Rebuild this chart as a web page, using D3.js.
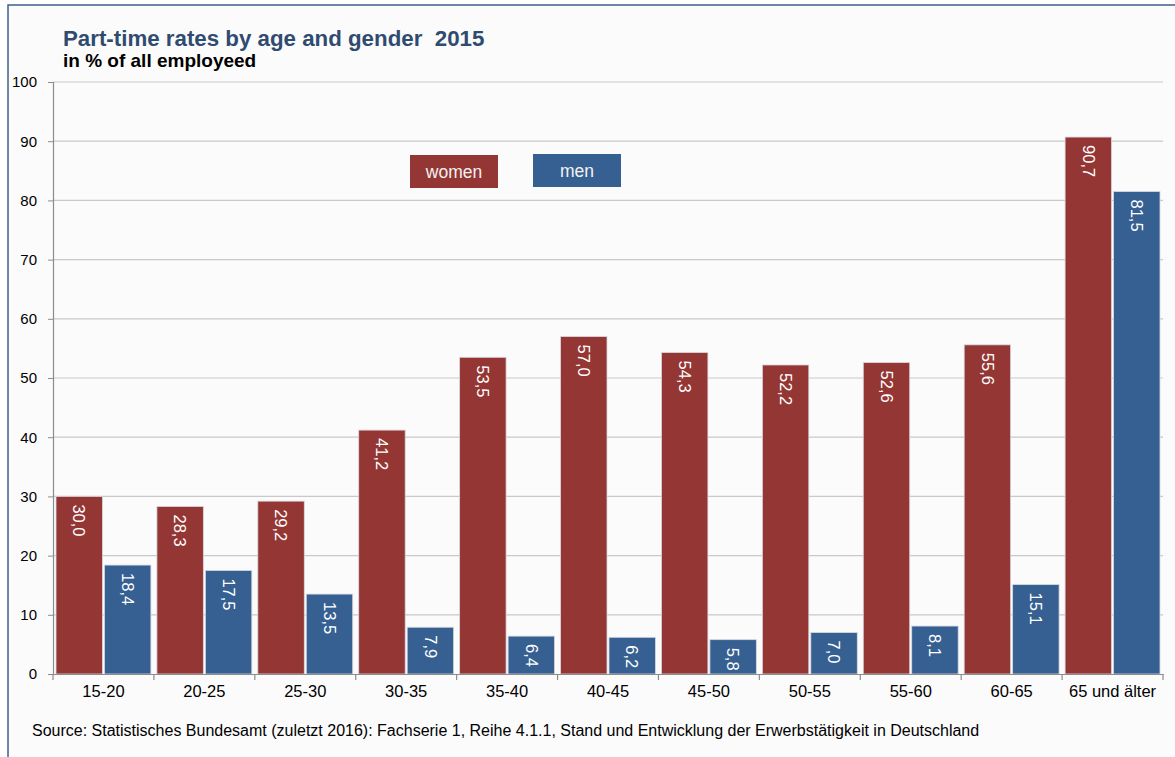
<!DOCTYPE html>
<html>
<head>
<meta charset="utf-8">
<script src="https://cdn.jsdelivr.net/npm/d3@7"></script>
<style>
  body { margin: 0; background: #fff; }
  svg { font-family: Arial, "Liberation Sans", sans-serif; }
</style>
</head>
<body>
<div id="chart"></div>
<script>
// chart data
const ageGroups = ["15-20", "20-25", "25-30", "30-35", "35-40", "40-45", "45-50", "50-55", "55-60", "60-65", "65 und älter"];
const women = [30.0, 28.3, 29.2, 41.2, 53.5, 57.0, 54.3, 52.2, 52.6, 55.6, 90.7];
const men = [18.4, 17.5, 13.5, 7.9, 6.4, 6.2, 5.8, 7.0, 8.1, 15.1, 81.5];
const yTicks = [0, 10, 20, 30, 40, 50, 60, 70, 80, 90, 100];

const width = 1175, height = 757;
const margin = {top: 82, right: 12, bottom: 83, left: 53};
const colWomen = "#943634", colMen = "#366092";

const svg = d3.select("#chart").append("svg")
  .attr("width", width)
  .attr("height", height);

// frame + background
svg.append("rect").attr("x", 0).attr("y", 0).attr("width", width).attr("height", height).attr("fill", "#fff");
svg.append("rect").attr("x", 8).attr("y", 5).attr("width", width).attr("height", height)
  .attr("fill", "#fbfbfb").attr("stroke", "#3f5f8a").attr("stroke-width", 1.5);

const x = d3.scaleBand()
  .domain(ageGroups)
  .range([margin.left, width - margin.right]);

const y = d3.scaleLinear()
  .domain([0, 100])
  .range([height - margin.bottom, margin.top]);

// gridlines
svg.append("g")
  .selectAll("line")
  .data(yTicks.slice(1))
  .enter()
  .append("line")
    .attr("x1", margin.left)
    .attr("x2", width - margin.right)
    .attr("y1", d => y(d))
    .attr("y2", d => y(d))
    .attr("stroke", "#c9c9c9")
    .attr("stroke-width", 1.2);

// bars
const pad = 3, gap = 2;
const barW = (x.bandwidth() - 2 * pad - gap) / 2;

const series = [
  {name: "women", values: women, color: colWomen, off: pad},
  {name: "men", values: men, color: colMen, off: pad + barW + gap}
];

series.forEach(s => {
  svg.append("g")
    .selectAll("rect")
    .data(ageGroups)
    .enter()
    .append("rect")
      .attr("x", d => x(d) + s.off)
      .attr("y", (d, i) => y(s.values[i]))
      .attr("width", barW)
      .attr("height", (d, i) => y(0) - y(s.values[i]))
      .attr("fill", s.color)
      .attr("stroke", "#d9d9e0")
      .attr("stroke-width", 0.8);

  // rotated value labels
  svg.append("g")
    .selectAll("text")
    .data(ageGroups)
    .enter()
    .append("text")
      .attr("transform", (d, i) => `translate(${x(d) + s.off + barW / 2},${y(s.values[i]) + 8}) rotate(90)`)
      .attr("dy", "0.35em")
      .attr("fill", "#fff")
      .attr("font-size", "16.5px")
      .text((d, i) => s.values[i].toFixed(1).replace(".", ","));
});

// y axis
const yAxis = svg.append("g")
  .attr("transform", `translate(${margin.left},0)`)
  .call(d3.axisLeft(y).tickValues(yTicks).tickSize(5).tickPadding(11));
yAxis.select(".domain").attr("stroke", "#8c8c8c").attr("stroke-width", 1.2);
yAxis.selectAll(".tick line").attr("stroke", "#8c8c8c");
yAxis.selectAll(".tick text").attr("font-size", "15px").attr("fill", "#000")
  .attr("font-family", "Arial, 'Liberation Sans', sans-serif");

// x axis
const xAxis = svg.append("g")
  .attr("transform", `translate(0,${y(0)})`)
  .call(d3.axisBottom(x).tickSize(0).tickPadding(11));
xAxis.select(".domain").attr("stroke", "#8c8c8c").attr("stroke-width", 1.2);
xAxis.selectAll(".tick text").attr("font-size", "16.5px").attr("fill", "#000")
  .attr("font-family", "Arial, 'Liberation Sans', sans-serif");

// category separator ticks
svg.append("g")
  .selectAll("line")
  .data(ageGroups.concat(["end"]))
  .enter()
  .append("line")
    .attr("x1", (d, i) => margin.left + i * x.step())
    .attr("x2", (d, i) => margin.left + i * x.step())
    .attr("y1", y(0))
    .attr("y2", y(0) + 6)
    .attr("stroke", "#8c8c8c")
    .attr("stroke-width", 1.2);

// legend
const legend = [
  {label: "women", color: colWomen, x: 410, y: 155},
  {label: "men", color: colMen, x: 533, y: 154}
];
const lg = svg.append("g").selectAll("g")
  .data(legend)
  .enter()
  .append("g")
  .attr("transform", d => `translate(${d.x},${d.y})`);
lg.append("rect").attr("width", 88).attr("height", 33).attr("fill", d => d.color);
lg.append("text")
  .attr("x", 44).attr("y", 17).attr("dy", "0.35em")
  .attr("text-anchor", "middle")
  .attr("fill", "#f2f2f2")
  .attr("font-size", "17.5px")
  .text(d => d.label);

// titles
svg.append("text")
  .attr("x", 63).attr("y", 46)
  .attr("fill", "#2f4b70")
  .attr("font-size", "22.3px")
  .attr("font-weight", "bold")
  .attr("xml:space", "preserve")
  .text("Part-time rates by age and gender  2015");

svg.append("text")
  .attr("x", 63).attr("y", 67)
  .attr("fill", "#000")
  .attr("font-size", "19px")
  .attr("font-weight", "bold")
  .text("in % of all employeed");

// source
svg.append("text")
  .attr("x", 32).attr("y", 736)
  .attr("fill", "#000")
  .attr("font-size", "16px")
  .text("Source: Statistisches Bundesamt (zuletzt 2016): Fachserie 1, Reihe 4.1.1, Stand und Entwicklung der Erwerbstätigkeit in Deutschland");
</script>
</body>
</html>
